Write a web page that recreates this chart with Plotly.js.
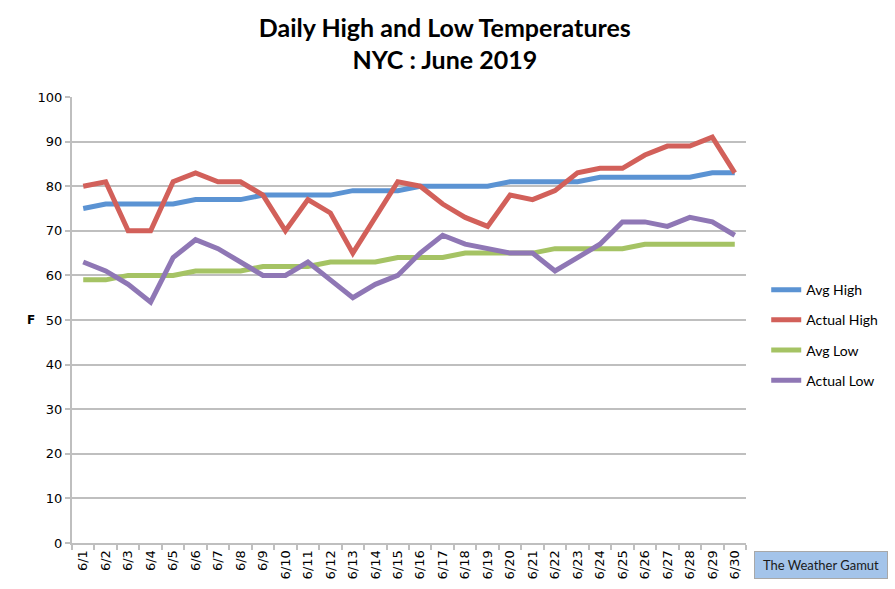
<!DOCTYPE html>
<html>
<head>
<meta charset="utf-8">
<script src="https://cdn.plot.ly/plotly-3.0.1.min.js"></script>
<style>
  body { margin: 0; background: #fff; }
  #chart { width: 895px; height: 589px; }
</style>
</head>
<body>
<div id="chart"></div>
<script>
// days of June 2019
var days = ['6/1','6/2','6/3','6/4','6/5','6/6','6/7','6/8','6/9','6/10',
            '6/11','6/12','6/13','6/14','6/15','6/16','6/17','6/18','6/19','6/20',
            '6/21','6/22','6/23','6/24','6/25','6/26','6/27','6/28','6/29','6/30'];

var avgHigh    = [75,76,76,76,76,77,77,77,78,78,78,78,79,79,79,80,80,80,80,81,81,81,81,82,82,82,82,82,83,83];
var actualHigh = [80,81,70,70,81,83,81,81,78,70,77,74,65,73,81,80,76,73,71,78,77,79,83,84,84,87,89,89,91,83];
var avgLow     = [59,59,60,60,60,61,61,61,62,62,62,63,63,63,64,64,64,65,65,65,65,66,66,66,66,67,67,67,67,67];
var actualLow  = [63,61,58,54,64,68,66,63,60,60,63,59,55,58,60,65,69,67,66,65,65,61,64,67,72,72,71,73,72,69];

function mkTrace(y, name, color) {
    return {
        x: days,
        y: y,
        mode: 'lines',
        type: 'scatter',
        name: name,
        legendgroup: name,
        line: {color: color, width: 5}
    };
}

var traces = [
    mkTrace(avgHigh, 'Avg High', '#5b93d3'),
    mkTrace(actualHigh, 'Actual High', '#d2605a'),
    mkTrace(avgLow, 'Avg Low', '#a5c364'),
    mkTrace(actualLow, 'Actual Low', '#8f77b5')
];

var layout = {
    width: 895,
    height: 589,
    paper_bgcolor: '#fff',
    plot_bgcolor: '#fff',
    margin: {t: 97, r: 147, l: 72, b: 46},
    title: {
        text: 'Daily High and Low Temperatures<br>NYC : June 2019',
        font: {family: 'Lato, sans-serif', size: 25, color: '#000', weight: 'bold'},
        x: 0.497, xanchor: 'center',
        y: 0.938, yanchor: 'top'
    },
    font: {family: 'DejaVu Sans, Verdana, sans-serif', size: 13, color: '#000'},
    xaxis: {
        type: 'category',
        range: [-0.5, 29.5],
        tickangle: -90,
        ticks: 'outside',
        tickson: 'boundaries',
        ticklen: 5,
        tickcolor: '#bfbfbf',
        tickwidth: 2,
        showline: true,
        linecolor: '#bfbfbf',
        linewidth: 2,
        showgrid: false,
        tickfont: {size: 13}
    },
    yaxis: {
        range: [0, 100],
        dtick: 10,
        ticks: 'outside',
        ticklen: 5,
        tickcolor: '#bfbfbf',
        tickwidth: 2,
        showline: true,
        linecolor: '#bfbfbf',
        linewidth: 2,
        gridcolor: '#bfbfbf',
        gridwidth: 2,
        zeroline: false,
        tickfont: {size: 13}
    },
    showlegend: true,
    legend: {
        x: 1.03, xanchor: 'left',
        y: 0.603, yanchor: 'top',
        font: {family: 'Lato, sans-serif', size: 14},
        tracegroupgap: 9,
        itemwidth: 30
    },
    annotations: [
        {
            text: '<b>F</b>', xref: 'paper', yref: 'paper',
            x: -0.07, y: 0.5, showarrow: false,
            font: {size: 12}
        },
        {
            text: 'The Weather Gamut', xref: 'paper', yref: 'paper',
            x: 1.111, y: -0.05, xanchor: 'center', yanchor: 'middle',
            showarrow: false,
            font: {family: 'Lato, sans-serif', size: 13, color: '#1a1a1a'},
            bgcolor: '#a4c4ea', bordercolor: '#a8a8a8', borderwidth: 1,
            borderpad: 5, width: 122
        }
    ]
};

Plotly.newPlot('chart', traces, layout, {displayModeBar: false});
</script>
</body>
</html>
